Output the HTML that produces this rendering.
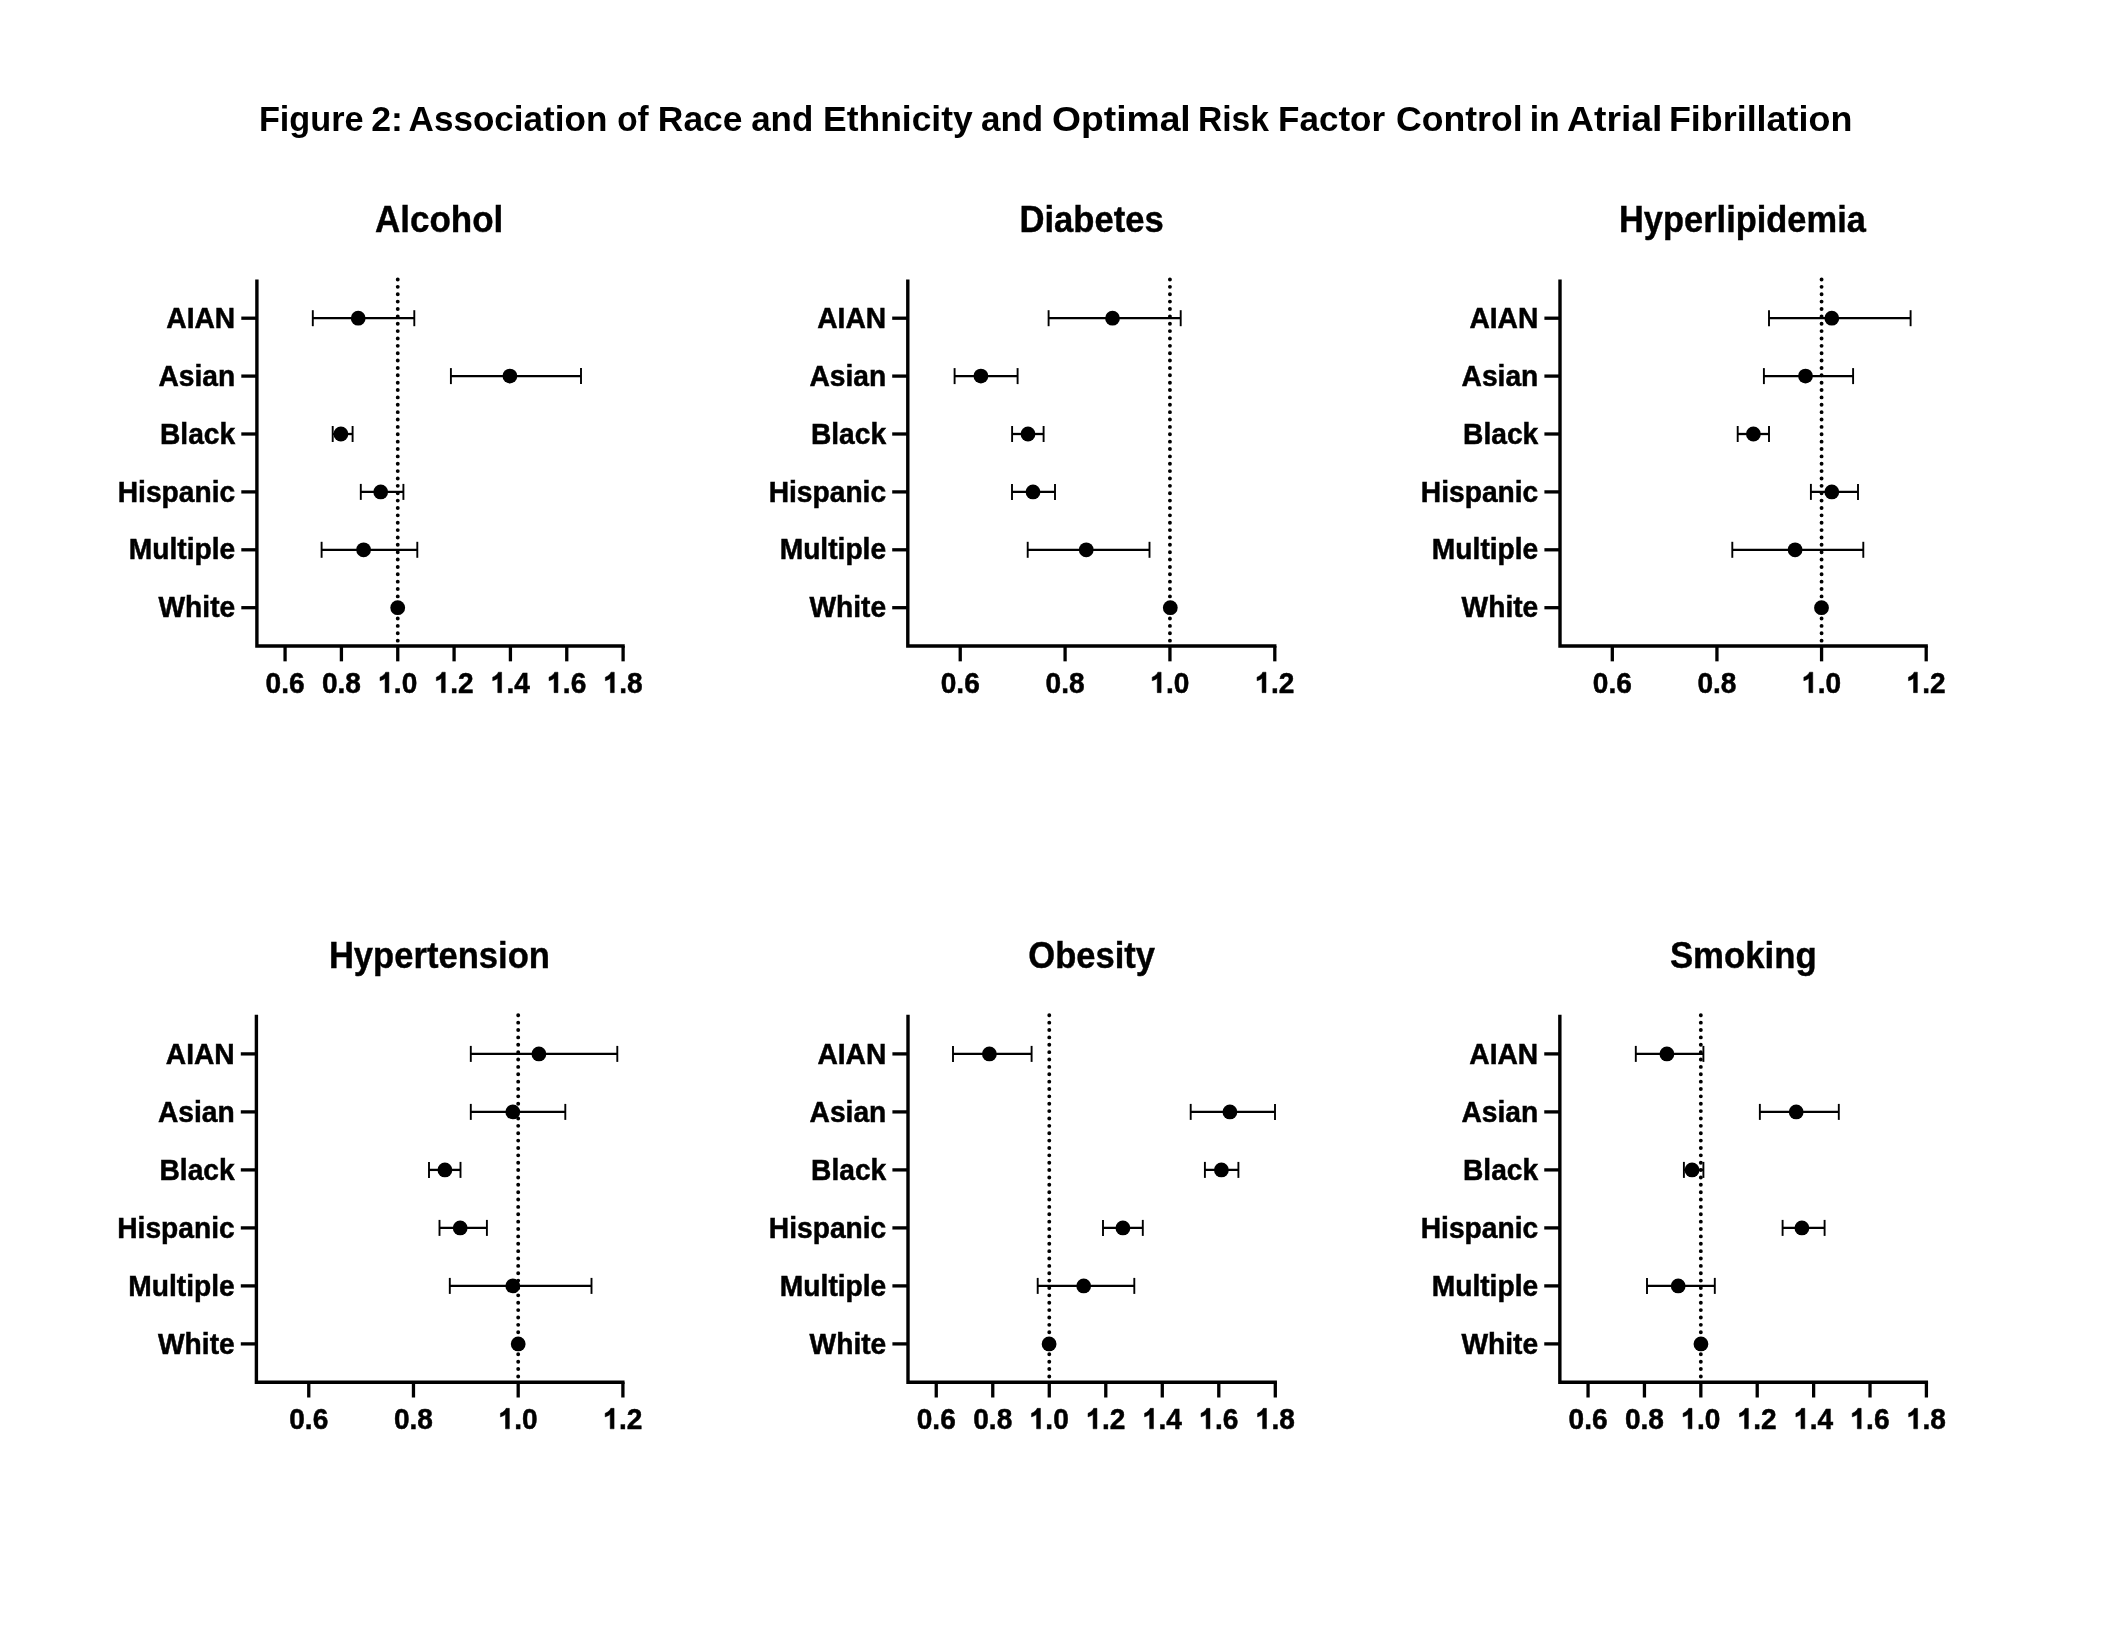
<!DOCTYPE html>
<html><head><meta charset="utf-8"><title>Figure 2</title>
<style>html,body{margin:0;padding:0;background:#fff;overflow:hidden}svg{display:block;filter:grayscale(100%)}text{font-family:"Liberation Sans", sans-serif;font-weight:bold;fill:#000}.lb{stroke:#000;stroke-width:0.5}.pt{stroke:#000;stroke-width:0.4}</style>
</head><body>
<svg width="2112" height="1632" viewBox="0 0 2112 1632">
<rect x="0" y="0" width="2112" height="1632" fill="#fff"/>
<text x="258.91" y="130.8" font-size="34.5" textLength="104.7" lengthAdjust="spacingAndGlyphs">Figure</text>
<text x="371.17" y="130.8" font-size="34.5" textLength="31.71" lengthAdjust="spacingAndGlyphs">2:</text>
<text x="408.58" y="130.8" font-size="34.5" textLength="198.79" lengthAdjust="spacingAndGlyphs">Association</text>
<text x="617.13" y="130.8" font-size="34.5" textLength="31.46" lengthAdjust="spacingAndGlyphs">of</text>
<text x="657.85" y="130.8" font-size="34.5" textLength="84.57" lengthAdjust="spacingAndGlyphs">Race</text>
<text x="751.19" y="130.8" font-size="34.5" textLength="62.08" lengthAdjust="spacingAndGlyphs">and</text>
<text x="823.05" y="130.8" font-size="34.5" textLength="149.66" lengthAdjust="spacingAndGlyphs">Ethnicity</text>
<text x="980.99" y="130.8" font-size="34.5" textLength="62.19" lengthAdjust="spacingAndGlyphs">and</text>
<text x="1052.02" y="130.8" font-size="34.5" textLength="138.71" lengthAdjust="spacingAndGlyphs">Optimal</text>
<text x="1197.95" y="130.8" font-size="34.5" textLength="71.13" lengthAdjust="spacingAndGlyphs">Risk</text>
<text x="1278.07" y="130.8" font-size="34.5" textLength="107.08" lengthAdjust="spacingAndGlyphs">Factor</text>
<text x="1395.97" y="130.8" font-size="34.5" textLength="126.56" lengthAdjust="spacingAndGlyphs">Control</text>
<text x="1529.64" y="130.8" font-size="34.5" textLength="30.1" lengthAdjust="spacingAndGlyphs">in</text>
<text x="1567.02" y="130.8" font-size="34.5" textLength="95.45" lengthAdjust="spacingAndGlyphs">Atrial</text>
<text x="1668.92" y="130.8" font-size="34.5" textLength="183.4" lengthAdjust="spacingAndGlyphs">Fibrillation</text>
<g><text x="374.93" y="232.2" font-size="36.2" textLength="128.4" lengthAdjust="spacingAndGlyphs" class="pt">Alcohol</text>
<line x1="397.75" y1="279.5" x2="397.75" y2="646.05" stroke="#000" stroke-width="3.9" stroke-linecap="round" stroke-dasharray="0 7.37"/>
<path d="M256.9 279.5 V646.05 H624.75" fill="none" stroke="#000" stroke-width="3.4" stroke-linecap="butt" stroke-linejoin="miter"/>
<line x1="241.3" y1="318.2" x2="256.9" y2="318.2" stroke="#000" stroke-width="3.3"/>
<text transform="translate(235.2 327.8) scale(0.965 1)" class="lb" font-size="29.2" text-anchor="end">AIAN</text>
<line x1="241.3" y1="376.1" x2="256.9" y2="376.1" stroke="#000" stroke-width="3.3"/>
<text transform="translate(235.2 385.7) scale(0.965 1)" class="lb" font-size="29.2" text-anchor="end">Asian</text>
<line x1="241.3" y1="434" x2="256.9" y2="434" stroke="#000" stroke-width="3.3"/>
<text transform="translate(235.2 443.6) scale(0.965 1)" class="lb" font-size="29.2" text-anchor="end">Black</text>
<line x1="241.3" y1="491.9" x2="256.9" y2="491.9" stroke="#000" stroke-width="3.3"/>
<text transform="translate(235.2 501.5) scale(0.965 1)" class="lb" font-size="29.2" text-anchor="end">Hispanic</text>
<line x1="241.3" y1="549.8" x2="256.9" y2="549.8" stroke="#000" stroke-width="3.3"/>
<text transform="translate(235.2 559.4) scale(0.965 1)" class="lb" font-size="29.2" text-anchor="end">Multiple</text>
<line x1="241.3" y1="607.7" x2="256.9" y2="607.7" stroke="#000" stroke-width="3.3"/>
<text transform="translate(235.2 617.3) scale(0.965 1)" class="lb" font-size="29.2" text-anchor="end">White</text>
<line x1="285.07" y1="646.05" x2="285.07" y2="661.35" stroke="#000" stroke-width="3.3"/>
<text transform="translate(285.07 692.65) scale(0.955 1)" class="lb" font-size="29.4" text-anchor="middle">0.6</text>
<line x1="341.41" y1="646.05" x2="341.41" y2="661.35" stroke="#000" stroke-width="3.3"/>
<text transform="translate(341.41 692.65) scale(0.955 1)" class="lb" font-size="29.4" text-anchor="middle">0.8</text>
<line x1="397.75" y1="646.05" x2="397.75" y2="661.35" stroke="#000" stroke-width="3.3"/>
<path transform="translate(378.23 692.65) scale(0.013709 -0.014355)" d="M780 0L499 0L499 1010C420 940 300 880 130 830L130 1080C230 1110 330 1170 420 1250C480 1300 515 1360 540 1425L780 1425Z" fill="#000" stroke="#000" stroke-width="0.5" vector-effect="non-scaling-stroke"/>
<text transform="translate(393.85 692.65) scale(0.955 1)" class="lb" font-size="29.4">.0</text>
<line x1="454.08" y1="646.05" x2="454.08" y2="661.35" stroke="#000" stroke-width="3.3"/>
<path transform="translate(434.57 692.65) scale(0.013709 -0.014355)" d="M780 0L499 0L499 1010C420 940 300 880 130 830L130 1080C230 1110 330 1170 420 1250C480 1300 515 1360 540 1425L780 1425Z" fill="#000" stroke="#000" stroke-width="0.5" vector-effect="non-scaling-stroke"/>
<text transform="translate(450.18 692.65) scale(0.955 1)" class="lb" font-size="29.4">.2</text>
<line x1="510.42" y1="646.05" x2="510.42" y2="661.35" stroke="#000" stroke-width="3.3"/>
<path transform="translate(490.91 692.65) scale(0.013709 -0.014355)" d="M780 0L499 0L499 1010C420 940 300 880 130 830L130 1080C230 1110 330 1170 420 1250C480 1300 515 1360 540 1425L780 1425Z" fill="#000" stroke="#000" stroke-width="0.5" vector-effect="non-scaling-stroke"/>
<text transform="translate(506.52 692.65) scale(0.955 1)" class="lb" font-size="29.4">.4</text>
<line x1="566.76" y1="646.05" x2="566.76" y2="661.35" stroke="#000" stroke-width="3.3"/>
<path transform="translate(547.25 692.65) scale(0.013709 -0.014355)" d="M780 0L499 0L499 1010C420 940 300 880 130 830L130 1080C230 1110 330 1170 420 1250C480 1300 515 1360 540 1425L780 1425Z" fill="#000" stroke="#000" stroke-width="0.5" vector-effect="non-scaling-stroke"/>
<text transform="translate(562.86 692.65) scale(0.955 1)" class="lb" font-size="29.4">.6</text>
<line x1="623.1" y1="646.05" x2="623.1" y2="661.35" stroke="#000" stroke-width="3.3"/>
<path transform="translate(603.58 692.65) scale(0.013709 -0.014355)" d="M780 0L499 0L499 1010C420 940 300 880 130 830L130 1080C230 1110 330 1170 420 1250C480 1300 515 1360 540 1425L780 1425Z" fill="#000" stroke="#000" stroke-width="0.5" vector-effect="non-scaling-stroke"/>
<text transform="translate(619.2 692.65) scale(0.955 1)" class="lb" font-size="29.4">.8</text>
<line x1="312.8" y1="318.2" x2="414.3" y2="318.2" stroke="#000" stroke-width="2.3"/>
<line x1="312.8" y1="310.2" x2="312.8" y2="326.2" stroke="#000" stroke-width="1.9"/>
<line x1="414.3" y1="310.2" x2="414.3" y2="326.2" stroke="#000" stroke-width="1.9"/>
<circle cx="358.2" cy="318.2" r="7.4" fill="#000"/>
<line x1="450.9" y1="376.1" x2="581" y2="376.1" stroke="#000" stroke-width="2.3"/>
<line x1="450.9" y1="368.1" x2="450.9" y2="384.1" stroke="#000" stroke-width="1.9"/>
<line x1="581" y1="368.1" x2="581" y2="384.1" stroke="#000" stroke-width="1.9"/>
<circle cx="509.9" cy="376.1" r="7.4" fill="#000"/>
<line x1="332.7" y1="434" x2="352.6" y2="434" stroke="#000" stroke-width="2.3"/>
<line x1="332.7" y1="426" x2="332.7" y2="442" stroke="#000" stroke-width="1.9"/>
<line x1="352.6" y1="426" x2="352.6" y2="442" stroke="#000" stroke-width="1.9"/>
<circle cx="340.9" cy="434" r="7.4" fill="#000"/>
<line x1="360.8" y1="491.9" x2="403.4" y2="491.9" stroke="#000" stroke-width="2.3"/>
<line x1="360.8" y1="483.9" x2="360.8" y2="499.9" stroke="#000" stroke-width="1.9"/>
<line x1="403.4" y1="483.9" x2="403.4" y2="499.9" stroke="#000" stroke-width="1.9"/>
<circle cx="380.7" cy="491.9" r="7.4" fill="#000"/>
<line x1="321.6" y1="549.8" x2="417.3" y2="549.8" stroke="#000" stroke-width="2.3"/>
<line x1="321.6" y1="541.8" x2="321.6" y2="557.8" stroke="#000" stroke-width="1.9"/>
<line x1="417.3" y1="541.8" x2="417.3" y2="557.8" stroke="#000" stroke-width="1.9"/>
<circle cx="363.6" cy="549.8" r="7.4" fill="#000"/>
<circle cx="397.7" cy="607.7" r="7.4" fill="#000"/></g>
<g><text x="1019.39" y="232.2" font-size="36.2" textLength="144.44" lengthAdjust="spacingAndGlyphs" class="pt">Diabetes</text>
<line x1="1169.94" y1="279.5" x2="1169.94" y2="646.05" stroke="#000" stroke-width="3.9" stroke-linecap="round" stroke-dasharray="0 7.37"/>
<path d="M907.8 279.5 V646.05 H1276.45" fill="none" stroke="#000" stroke-width="3.4" stroke-linecap="butt" stroke-linejoin="miter"/>
<line x1="892.2" y1="318.2" x2="907.8" y2="318.2" stroke="#000" stroke-width="3.3"/>
<text transform="translate(886.1 327.8) scale(0.965 1)" class="lb" font-size="29.2" text-anchor="end">AIAN</text>
<line x1="892.2" y1="376.1" x2="907.8" y2="376.1" stroke="#000" stroke-width="3.3"/>
<text transform="translate(886.1 385.7) scale(0.965 1)" class="lb" font-size="29.2" text-anchor="end">Asian</text>
<line x1="892.2" y1="434" x2="907.8" y2="434" stroke="#000" stroke-width="3.3"/>
<text transform="translate(886.1 443.6) scale(0.965 1)" class="lb" font-size="29.2" text-anchor="end">Black</text>
<line x1="892.2" y1="491.9" x2="907.8" y2="491.9" stroke="#000" stroke-width="3.3"/>
<text transform="translate(886.1 501.5) scale(0.965 1)" class="lb" font-size="29.2" text-anchor="end">Hispanic</text>
<line x1="892.2" y1="549.8" x2="907.8" y2="549.8" stroke="#000" stroke-width="3.3"/>
<text transform="translate(886.1 559.4) scale(0.965 1)" class="lb" font-size="29.2" text-anchor="end">Multiple</text>
<line x1="892.2" y1="607.7" x2="907.8" y2="607.7" stroke="#000" stroke-width="3.3"/>
<text transform="translate(886.1 617.3) scale(0.965 1)" class="lb" font-size="29.2" text-anchor="end">White</text>
<line x1="960.23" y1="646.05" x2="960.23" y2="661.35" stroke="#000" stroke-width="3.3"/>
<text transform="translate(960.23 692.65) scale(0.955 1)" class="lb" font-size="29.4" text-anchor="middle">0.6</text>
<line x1="1065.09" y1="646.05" x2="1065.09" y2="661.35" stroke="#000" stroke-width="3.3"/>
<text transform="translate(1065.09 692.65) scale(0.955 1)" class="lb" font-size="29.4" text-anchor="middle">0.8</text>
<line x1="1169.94" y1="646.05" x2="1169.94" y2="661.35" stroke="#000" stroke-width="3.3"/>
<path transform="translate(1150.43 692.65) scale(0.013709 -0.014355)" d="M780 0L499 0L499 1010C420 940 300 880 130 830L130 1080C230 1110 330 1170 420 1250C480 1300 515 1360 540 1425L780 1425Z" fill="#000" stroke="#000" stroke-width="0.5" vector-effect="non-scaling-stroke"/>
<text transform="translate(1166.04 692.65) scale(0.955 1)" class="lb" font-size="29.4">.0</text>
<line x1="1274.8" y1="646.05" x2="1274.8" y2="661.35" stroke="#000" stroke-width="3.3"/>
<path transform="translate(1255.28 692.65) scale(0.013709 -0.014355)" d="M780 0L499 0L499 1010C420 940 300 880 130 830L130 1080C230 1110 330 1170 420 1250C480 1300 515 1360 540 1425L780 1425Z" fill="#000" stroke="#000" stroke-width="0.5" vector-effect="non-scaling-stroke"/>
<text transform="translate(1270.9 692.65) scale(0.955 1)" class="lb" font-size="29.4">.2</text>
<line x1="1048.6" y1="318.2" x2="1180.7" y2="318.2" stroke="#000" stroke-width="2.3"/>
<line x1="1048.6" y1="310.2" x2="1048.6" y2="326.2" stroke="#000" stroke-width="1.9"/>
<line x1="1180.7" y1="310.2" x2="1180.7" y2="326.2" stroke="#000" stroke-width="1.9"/>
<circle cx="1112.5" cy="318.2" r="7.4" fill="#000"/>
<line x1="954.6" y1="376.1" x2="1017.6" y2="376.1" stroke="#000" stroke-width="2.3"/>
<line x1="954.6" y1="368.1" x2="954.6" y2="384.1" stroke="#000" stroke-width="1.9"/>
<line x1="1017.6" y1="368.1" x2="1017.6" y2="384.1" stroke="#000" stroke-width="1.9"/>
<circle cx="980.9" cy="376.1" r="7.4" fill="#000"/>
<line x1="1012.1" y1="434" x2="1043.6" y2="434" stroke="#000" stroke-width="2.3"/>
<line x1="1012.1" y1="426" x2="1012.1" y2="442" stroke="#000" stroke-width="1.9"/>
<line x1="1043.6" y1="426" x2="1043.6" y2="442" stroke="#000" stroke-width="1.9"/>
<circle cx="1028" cy="434" r="7.4" fill="#000"/>
<line x1="1012" y1="491.9" x2="1055" y2="491.9" stroke="#000" stroke-width="2.3"/>
<line x1="1012" y1="483.9" x2="1012" y2="499.9" stroke="#000" stroke-width="1.9"/>
<line x1="1055" y1="483.9" x2="1055" y2="499.9" stroke="#000" stroke-width="1.9"/>
<circle cx="1033" cy="491.9" r="7.4" fill="#000"/>
<line x1="1027.7" y1="549.8" x2="1149.5" y2="549.8" stroke="#000" stroke-width="2.3"/>
<line x1="1027.7" y1="541.8" x2="1027.7" y2="557.8" stroke="#000" stroke-width="1.9"/>
<line x1="1149.5" y1="541.8" x2="1149.5" y2="557.8" stroke="#000" stroke-width="1.9"/>
<circle cx="1086.25" cy="549.8" r="7.4" fill="#000"/>
<circle cx="1170.3" cy="607.7" r="7.4" fill="#000"/></g>
<g><text x="1619.0" y="232.2" font-size="36.2" textLength="246.87" lengthAdjust="spacingAndGlyphs" class="pt">Hyperlipidemia</text>
<line x1="1821.57" y1="279.5" x2="1821.57" y2="646.05" stroke="#000" stroke-width="3.9" stroke-linecap="round" stroke-dasharray="0 7.37"/>
<path d="M1560 279.5 V646.05 H1927.85" fill="none" stroke="#000" stroke-width="3.4" stroke-linecap="butt" stroke-linejoin="miter"/>
<line x1="1544.4" y1="318.2" x2="1560" y2="318.2" stroke="#000" stroke-width="3.3"/>
<text transform="translate(1538.3 327.8) scale(0.965 1)" class="lb" font-size="29.2" text-anchor="end">AIAN</text>
<line x1="1544.4" y1="376.1" x2="1560" y2="376.1" stroke="#000" stroke-width="3.3"/>
<text transform="translate(1538.3 385.7) scale(0.965 1)" class="lb" font-size="29.2" text-anchor="end">Asian</text>
<line x1="1544.4" y1="434" x2="1560" y2="434" stroke="#000" stroke-width="3.3"/>
<text transform="translate(1538.3 443.6) scale(0.965 1)" class="lb" font-size="29.2" text-anchor="end">Black</text>
<line x1="1544.4" y1="491.9" x2="1560" y2="491.9" stroke="#000" stroke-width="3.3"/>
<text transform="translate(1538.3 501.5) scale(0.965 1)" class="lb" font-size="29.2" text-anchor="end">Hispanic</text>
<line x1="1544.4" y1="549.8" x2="1560" y2="549.8" stroke="#000" stroke-width="3.3"/>
<text transform="translate(1538.3 559.4) scale(0.965 1)" class="lb" font-size="29.2" text-anchor="end">Multiple</text>
<line x1="1544.4" y1="607.7" x2="1560" y2="607.7" stroke="#000" stroke-width="3.3"/>
<text transform="translate(1538.3 617.3) scale(0.965 1)" class="lb" font-size="29.2" text-anchor="end">White</text>
<line x1="1612.31" y1="646.05" x2="1612.31" y2="661.35" stroke="#000" stroke-width="3.3"/>
<text transform="translate(1612.31 692.65) scale(0.955 1)" class="lb" font-size="29.4" text-anchor="middle">0.6</text>
<line x1="1716.94" y1="646.05" x2="1716.94" y2="661.35" stroke="#000" stroke-width="3.3"/>
<text transform="translate(1716.94 692.65) scale(0.955 1)" class="lb" font-size="29.4" text-anchor="middle">0.8</text>
<line x1="1821.57" y1="646.05" x2="1821.57" y2="661.35" stroke="#000" stroke-width="3.3"/>
<path transform="translate(1802.06 692.65) scale(0.013709 -0.014355)" d="M780 0L499 0L499 1010C420 940 300 880 130 830L130 1080C230 1110 330 1170 420 1250C480 1300 515 1360 540 1425L780 1425Z" fill="#000" stroke="#000" stroke-width="0.5" vector-effect="non-scaling-stroke"/>
<text transform="translate(1817.67 692.65) scale(0.955 1)" class="lb" font-size="29.4">.0</text>
<line x1="1926.2" y1="646.05" x2="1926.2" y2="661.35" stroke="#000" stroke-width="3.3"/>
<path transform="translate(1906.68 692.65) scale(0.013709 -0.014355)" d="M780 0L499 0L499 1010C420 940 300 880 130 830L130 1080C230 1110 330 1170 420 1250C480 1300 515 1360 540 1425L780 1425Z" fill="#000" stroke="#000" stroke-width="0.5" vector-effect="non-scaling-stroke"/>
<text transform="translate(1922.3 692.65) scale(0.955 1)" class="lb" font-size="29.4">.2</text>
<line x1="1769" y1="318.2" x2="1910.6" y2="318.2" stroke="#000" stroke-width="2.3"/>
<line x1="1769" y1="310.2" x2="1769" y2="326.2" stroke="#000" stroke-width="1.9"/>
<line x1="1910.6" y1="310.2" x2="1910.6" y2="326.2" stroke="#000" stroke-width="1.9"/>
<circle cx="1831.8" cy="318.2" r="7.4" fill="#000"/>
<line x1="1763.9" y1="376.1" x2="1853.1" y2="376.1" stroke="#000" stroke-width="2.3"/>
<line x1="1763.9" y1="368.1" x2="1763.9" y2="384.1" stroke="#000" stroke-width="1.9"/>
<line x1="1853.1" y1="368.1" x2="1853.1" y2="384.1" stroke="#000" stroke-width="1.9"/>
<circle cx="1805.5" cy="376.1" r="7.4" fill="#000"/>
<line x1="1737.7" y1="434" x2="1769" y2="434" stroke="#000" stroke-width="2.3"/>
<line x1="1737.7" y1="426" x2="1737.7" y2="442" stroke="#000" stroke-width="1.9"/>
<line x1="1769" y1="426" x2="1769" y2="442" stroke="#000" stroke-width="1.9"/>
<circle cx="1753.4" cy="434" r="7.4" fill="#000"/>
<line x1="1810.9" y1="491.9" x2="1858" y2="491.9" stroke="#000" stroke-width="2.3"/>
<line x1="1810.9" y1="483.9" x2="1810.9" y2="499.9" stroke="#000" stroke-width="1.9"/>
<line x1="1858" y1="483.9" x2="1858" y2="499.9" stroke="#000" stroke-width="1.9"/>
<circle cx="1831.8" cy="491.9" r="7.4" fill="#000"/>
<line x1="1732.3" y1="549.8" x2="1863.3" y2="549.8" stroke="#000" stroke-width="2.3"/>
<line x1="1732.3" y1="541.8" x2="1732.3" y2="557.8" stroke="#000" stroke-width="1.9"/>
<line x1="1863.3" y1="541.8" x2="1863.3" y2="557.8" stroke="#000" stroke-width="1.9"/>
<circle cx="1795.1" cy="549.8" r="7.4" fill="#000"/>
<circle cx="1821.5" cy="607.7" r="7.4" fill="#000"/></g>
<g><text x="328.89" y="967.5" font-size="36.2" textLength="221.06" lengthAdjust="spacingAndGlyphs" class="pt">Hypertension</text>
<line x1="518.19" y1="1015.3" x2="518.19" y2="1382.2" stroke="#000" stroke-width="3.9" stroke-linecap="round" stroke-dasharray="0 7.37"/>
<path d="M256.4 1014.7 V1382.2 H624.55" fill="none" stroke="#000" stroke-width="3.4" stroke-linecap="butt" stroke-linejoin="miter"/>
<line x1="240.8" y1="1053.9" x2="256.4" y2="1053.9" stroke="#000" stroke-width="3.3"/>
<text transform="translate(234.7 1063.5) scale(0.965 1)" class="lb" font-size="29.2" text-anchor="end">AIAN</text>
<line x1="240.8" y1="1111.9" x2="256.4" y2="1111.9" stroke="#000" stroke-width="3.3"/>
<text transform="translate(234.7 1121.5) scale(0.965 1)" class="lb" font-size="29.2" text-anchor="end">Asian</text>
<line x1="240.8" y1="1169.9" x2="256.4" y2="1169.9" stroke="#000" stroke-width="3.3"/>
<text transform="translate(234.7 1179.5) scale(0.965 1)" class="lb" font-size="29.2" text-anchor="end">Black</text>
<line x1="240.8" y1="1227.9" x2="256.4" y2="1227.9" stroke="#000" stroke-width="3.3"/>
<text transform="translate(234.7 1237.5) scale(0.965 1)" class="lb" font-size="29.2" text-anchor="end">Hispanic</text>
<line x1="240.8" y1="1285.9" x2="256.4" y2="1285.9" stroke="#000" stroke-width="3.3"/>
<text transform="translate(234.7 1295.5) scale(0.965 1)" class="lb" font-size="29.2" text-anchor="end">Multiple</text>
<line x1="240.8" y1="1343.9" x2="256.4" y2="1343.9" stroke="#000" stroke-width="3.3"/>
<text transform="translate(234.7 1353.5) scale(0.965 1)" class="lb" font-size="29.2" text-anchor="end">White</text>
<line x1="308.76" y1="1382.2" x2="308.76" y2="1397.5" stroke="#000" stroke-width="3.3"/>
<text transform="translate(308.76 1428.8) scale(0.955 1)" class="lb" font-size="29.4" text-anchor="middle">0.6</text>
<line x1="413.47" y1="1382.2" x2="413.47" y2="1397.5" stroke="#000" stroke-width="3.3"/>
<text transform="translate(413.47 1428.8) scale(0.955 1)" class="lb" font-size="29.4" text-anchor="middle">0.8</text>
<line x1="518.19" y1="1382.2" x2="518.19" y2="1397.5" stroke="#000" stroke-width="3.3"/>
<path transform="translate(498.67 1428.8) scale(0.013709 -0.014355)" d="M780 0L499 0L499 1010C420 940 300 880 130 830L130 1080C230 1110 330 1170 420 1250C480 1300 515 1360 540 1425L780 1425Z" fill="#000" stroke="#000" stroke-width="0.5" vector-effect="non-scaling-stroke"/>
<text transform="translate(514.29 1428.8) scale(0.955 1)" class="lb" font-size="29.4">.0</text>
<line x1="622.9" y1="1382.2" x2="622.9" y2="1397.5" stroke="#000" stroke-width="3.3"/>
<path transform="translate(603.38 1428.8) scale(0.013709 -0.014355)" d="M780 0L499 0L499 1010C420 940 300 880 130 830L130 1080C230 1110 330 1170 420 1250C480 1300 515 1360 540 1425L780 1425Z" fill="#000" stroke="#000" stroke-width="0.5" vector-effect="non-scaling-stroke"/>
<text transform="translate(619 1428.8) scale(0.955 1)" class="lb" font-size="29.4">.2</text>
<line x1="470.8" y1="1053.9" x2="617.3" y2="1053.9" stroke="#000" stroke-width="2.3"/>
<line x1="470.8" y1="1045.9" x2="470.8" y2="1061.9" stroke="#000" stroke-width="1.9"/>
<line x1="617.3" y1="1045.9" x2="617.3" y2="1061.9" stroke="#000" stroke-width="1.9"/>
<circle cx="538.9" cy="1053.9" r="7.4" fill="#000"/>
<line x1="470.8" y1="1111.9" x2="565.3" y2="1111.9" stroke="#000" stroke-width="2.3"/>
<line x1="470.8" y1="1103.9" x2="470.8" y2="1119.9" stroke="#000" stroke-width="1.9"/>
<line x1="565.3" y1="1103.9" x2="565.3" y2="1119.9" stroke="#000" stroke-width="1.9"/>
<circle cx="512.8" cy="1111.9" r="7.4" fill="#000"/>
<line x1="429" y1="1169.9" x2="460.5" y2="1169.9" stroke="#000" stroke-width="2.3"/>
<line x1="429" y1="1161.9" x2="429" y2="1177.9" stroke="#000" stroke-width="1.9"/>
<line x1="460.5" y1="1161.9" x2="460.5" y2="1177.9" stroke="#000" stroke-width="1.9"/>
<circle cx="444.9" cy="1169.9" r="7.4" fill="#000"/>
<line x1="439.5" y1="1227.9" x2="486.9" y2="1227.9" stroke="#000" stroke-width="2.3"/>
<line x1="439.5" y1="1219.9" x2="439.5" y2="1235.9" stroke="#000" stroke-width="1.9"/>
<line x1="486.9" y1="1219.9" x2="486.9" y2="1235.9" stroke="#000" stroke-width="1.9"/>
<circle cx="460.2" cy="1227.9" r="7.4" fill="#000"/>
<line x1="449.8" y1="1285.9" x2="591.5" y2="1285.9" stroke="#000" stroke-width="2.3"/>
<line x1="449.8" y1="1277.9" x2="449.8" y2="1293.9" stroke="#000" stroke-width="1.9"/>
<line x1="591.5" y1="1277.9" x2="591.5" y2="1293.9" stroke="#000" stroke-width="1.9"/>
<circle cx="512.8" cy="1285.9" r="7.4" fill="#000"/>
<circle cx="518.2" cy="1343.9" r="7.4" fill="#000"/></g>
<g><text x="1028.24" y="967.5" font-size="36.2" textLength="126.82" lengthAdjust="spacingAndGlyphs" class="pt">Obesity</text>
<line x1="1049.27" y1="1015.3" x2="1049.27" y2="1382.2" stroke="#000" stroke-width="3.9" stroke-linecap="round" stroke-dasharray="0 7.37"/>
<path d="M908 1014.7 V1382.2 H1276.95" fill="none" stroke="#000" stroke-width="3.4" stroke-linecap="butt" stroke-linejoin="miter"/>
<line x1="892.4" y1="1053.9" x2="908" y2="1053.9" stroke="#000" stroke-width="3.3"/>
<text transform="translate(886.3 1063.5) scale(0.965 1)" class="lb" font-size="29.2" text-anchor="end">AIAN</text>
<line x1="892.4" y1="1111.9" x2="908" y2="1111.9" stroke="#000" stroke-width="3.3"/>
<text transform="translate(886.3 1121.5) scale(0.965 1)" class="lb" font-size="29.2" text-anchor="end">Asian</text>
<line x1="892.4" y1="1169.9" x2="908" y2="1169.9" stroke="#000" stroke-width="3.3"/>
<text transform="translate(886.3 1179.5) scale(0.965 1)" class="lb" font-size="29.2" text-anchor="end">Black</text>
<line x1="892.4" y1="1227.9" x2="908" y2="1227.9" stroke="#000" stroke-width="3.3"/>
<text transform="translate(886.3 1237.5) scale(0.965 1)" class="lb" font-size="29.2" text-anchor="end">Hispanic</text>
<line x1="892.4" y1="1285.9" x2="908" y2="1285.9" stroke="#000" stroke-width="3.3"/>
<text transform="translate(886.3 1295.5) scale(0.965 1)" class="lb" font-size="29.2" text-anchor="end">Multiple</text>
<line x1="892.4" y1="1343.9" x2="908" y2="1343.9" stroke="#000" stroke-width="3.3"/>
<text transform="translate(886.3 1353.5) scale(0.965 1)" class="lb" font-size="29.2" text-anchor="end">White</text>
<line x1="936.25" y1="1382.2" x2="936.25" y2="1397.5" stroke="#000" stroke-width="3.3"/>
<text transform="translate(936.25 1428.8) scale(0.955 1)" class="lb" font-size="29.4" text-anchor="middle">0.6</text>
<line x1="992.76" y1="1382.2" x2="992.76" y2="1397.5" stroke="#000" stroke-width="3.3"/>
<text transform="translate(992.76 1428.8) scale(0.955 1)" class="lb" font-size="29.4" text-anchor="middle">0.8</text>
<line x1="1049.27" y1="1382.2" x2="1049.27" y2="1397.5" stroke="#000" stroke-width="3.3"/>
<path transform="translate(1029.75 1428.8) scale(0.013709 -0.014355)" d="M780 0L499 0L499 1010C420 940 300 880 130 830L130 1080C230 1110 330 1170 420 1250C480 1300 515 1360 540 1425L780 1425Z" fill="#000" stroke="#000" stroke-width="0.5" vector-effect="non-scaling-stroke"/>
<text transform="translate(1045.37 1428.8) scale(0.955 1)" class="lb" font-size="29.4">.0</text>
<line x1="1105.78" y1="1382.2" x2="1105.78" y2="1397.5" stroke="#000" stroke-width="3.3"/>
<path transform="translate(1086.26 1428.8) scale(0.013709 -0.014355)" d="M780 0L499 0L499 1010C420 940 300 880 130 830L130 1080C230 1110 330 1170 420 1250C480 1300 515 1360 540 1425L780 1425Z" fill="#000" stroke="#000" stroke-width="0.5" vector-effect="non-scaling-stroke"/>
<text transform="translate(1101.88 1428.8) scale(0.955 1)" class="lb" font-size="29.4">.2</text>
<line x1="1162.28" y1="1382.2" x2="1162.28" y2="1397.5" stroke="#000" stroke-width="3.3"/>
<path transform="translate(1142.77 1428.8) scale(0.013709 -0.014355)" d="M780 0L499 0L499 1010C420 940 300 880 130 830L130 1080C230 1110 330 1170 420 1250C480 1300 515 1360 540 1425L780 1425Z" fill="#000" stroke="#000" stroke-width="0.5" vector-effect="non-scaling-stroke"/>
<text transform="translate(1158.38 1428.8) scale(0.955 1)" class="lb" font-size="29.4">.4</text>
<line x1="1218.79" y1="1382.2" x2="1218.79" y2="1397.5" stroke="#000" stroke-width="3.3"/>
<path transform="translate(1199.28 1428.8) scale(0.013709 -0.014355)" d="M780 0L499 0L499 1010C420 940 300 880 130 830L130 1080C230 1110 330 1170 420 1250C480 1300 515 1360 540 1425L780 1425Z" fill="#000" stroke="#000" stroke-width="0.5" vector-effect="non-scaling-stroke"/>
<text transform="translate(1214.89 1428.8) scale(0.955 1)" class="lb" font-size="29.4">.6</text>
<line x1="1275.3" y1="1382.2" x2="1275.3" y2="1397.5" stroke="#000" stroke-width="3.3"/>
<path transform="translate(1255.78 1428.8) scale(0.013709 -0.014355)" d="M780 0L499 0L499 1010C420 940 300 880 130 830L130 1080C230 1110 330 1170 420 1250C480 1300 515 1360 540 1425L780 1425Z" fill="#000" stroke="#000" stroke-width="0.5" vector-effect="non-scaling-stroke"/>
<text transform="translate(1271.4 1428.8) scale(0.955 1)" class="lb" font-size="29.4">.8</text>
<line x1="953" y1="1053.9" x2="1031.6" y2="1053.9" stroke="#000" stroke-width="2.3"/>
<line x1="953" y1="1045.9" x2="953" y2="1061.9" stroke="#000" stroke-width="1.9"/>
<line x1="1031.6" y1="1045.9" x2="1031.6" y2="1061.9" stroke="#000" stroke-width="1.9"/>
<circle cx="989.4" cy="1053.9" r="7.4" fill="#000"/>
<line x1="1190.7" y1="1111.9" x2="1275" y2="1111.9" stroke="#000" stroke-width="2.3"/>
<line x1="1190.7" y1="1103.9" x2="1190.7" y2="1119.9" stroke="#000" stroke-width="1.9"/>
<line x1="1275" y1="1103.9" x2="1275" y2="1119.9" stroke="#000" stroke-width="1.9"/>
<circle cx="1229.9" cy="1111.9" r="7.4" fill="#000"/>
<line x1="1204.9" y1="1169.9" x2="1238.4" y2="1169.9" stroke="#000" stroke-width="2.3"/>
<line x1="1204.9" y1="1161.9" x2="1204.9" y2="1177.9" stroke="#000" stroke-width="1.9"/>
<line x1="1238.4" y1="1161.9" x2="1238.4" y2="1177.9" stroke="#000" stroke-width="1.9"/>
<circle cx="1221.4" cy="1169.9" r="7.4" fill="#000"/>
<line x1="1103" y1="1227.9" x2="1142.8" y2="1227.9" stroke="#000" stroke-width="2.3"/>
<line x1="1103" y1="1219.9" x2="1103" y2="1235.9" stroke="#000" stroke-width="1.9"/>
<line x1="1142.8" y1="1219.9" x2="1142.8" y2="1235.9" stroke="#000" stroke-width="1.9"/>
<circle cx="1122.9" cy="1227.9" r="7.4" fill="#000"/>
<line x1="1037.7" y1="1285.9" x2="1134.3" y2="1285.9" stroke="#000" stroke-width="2.3"/>
<line x1="1037.7" y1="1277.9" x2="1037.7" y2="1293.9" stroke="#000" stroke-width="1.9"/>
<line x1="1134.3" y1="1277.9" x2="1134.3" y2="1293.9" stroke="#000" stroke-width="1.9"/>
<circle cx="1083.7" cy="1285.9" r="7.4" fill="#000"/>
<circle cx="1049.1" cy="1343.9" r="7.4" fill="#000"/></g>
<g><text x="1669.94" y="967.5" font-size="36.2" textLength="146.8" lengthAdjust="spacingAndGlyphs" class="pt">Smoking</text>
<line x1="1700.83" y1="1015.3" x2="1700.83" y2="1382.2" stroke="#000" stroke-width="3.9" stroke-linecap="round" stroke-dasharray="0 7.37"/>
<path d="M1559.85 1014.7 V1382.2 H1928.05" fill="none" stroke="#000" stroke-width="3.4" stroke-linecap="butt" stroke-linejoin="miter"/>
<line x1="1544.25" y1="1053.9" x2="1559.85" y2="1053.9" stroke="#000" stroke-width="3.3"/>
<text transform="translate(1538.15 1063.5) scale(0.965 1)" class="lb" font-size="29.2" text-anchor="end">AIAN</text>
<line x1="1544.25" y1="1111.9" x2="1559.85" y2="1111.9" stroke="#000" stroke-width="3.3"/>
<text transform="translate(1538.15 1121.5) scale(0.965 1)" class="lb" font-size="29.2" text-anchor="end">Asian</text>
<line x1="1544.25" y1="1169.9" x2="1559.85" y2="1169.9" stroke="#000" stroke-width="3.3"/>
<text transform="translate(1538.15 1179.5) scale(0.965 1)" class="lb" font-size="29.2" text-anchor="end">Black</text>
<line x1="1544.25" y1="1227.9" x2="1559.85" y2="1227.9" stroke="#000" stroke-width="3.3"/>
<text transform="translate(1538.15 1237.5) scale(0.965 1)" class="lb" font-size="29.2" text-anchor="end">Hispanic</text>
<line x1="1544.25" y1="1285.9" x2="1559.85" y2="1285.9" stroke="#000" stroke-width="3.3"/>
<text transform="translate(1538.15 1295.5) scale(0.965 1)" class="lb" font-size="29.2" text-anchor="end">Multiple</text>
<line x1="1544.25" y1="1343.9" x2="1559.85" y2="1343.9" stroke="#000" stroke-width="3.3"/>
<text transform="translate(1538.15 1353.5) scale(0.965 1)" class="lb" font-size="29.2" text-anchor="end">White</text>
<line x1="1588.05" y1="1382.2" x2="1588.05" y2="1397.5" stroke="#000" stroke-width="3.3"/>
<text transform="translate(1588.05 1428.8) scale(0.955 1)" class="lb" font-size="29.4" text-anchor="middle">0.6</text>
<line x1="1644.44" y1="1382.2" x2="1644.44" y2="1397.5" stroke="#000" stroke-width="3.3"/>
<text transform="translate(1644.44 1428.8) scale(0.955 1)" class="lb" font-size="29.4" text-anchor="middle">0.8</text>
<line x1="1700.83" y1="1382.2" x2="1700.83" y2="1397.5" stroke="#000" stroke-width="3.3"/>
<path transform="translate(1681.32 1428.8) scale(0.013709 -0.014355)" d="M780 0L499 0L499 1010C420 940 300 880 130 830L130 1080C230 1110 330 1170 420 1250C480 1300 515 1360 540 1425L780 1425Z" fill="#000" stroke="#000" stroke-width="0.5" vector-effect="non-scaling-stroke"/>
<text transform="translate(1696.93 1428.8) scale(0.955 1)" class="lb" font-size="29.4">.0</text>
<line x1="1757.22" y1="1382.2" x2="1757.22" y2="1397.5" stroke="#000" stroke-width="3.3"/>
<path transform="translate(1737.71 1428.8) scale(0.013709 -0.014355)" d="M780 0L499 0L499 1010C420 940 300 880 130 830L130 1080C230 1110 330 1170 420 1250C480 1300 515 1360 540 1425L780 1425Z" fill="#000" stroke="#000" stroke-width="0.5" vector-effect="non-scaling-stroke"/>
<text transform="translate(1753.32 1428.8) scale(0.955 1)" class="lb" font-size="29.4">.2</text>
<line x1="1813.62" y1="1382.2" x2="1813.62" y2="1397.5" stroke="#000" stroke-width="3.3"/>
<path transform="translate(1794.1 1428.8) scale(0.013709 -0.014355)" d="M780 0L499 0L499 1010C420 940 300 880 130 830L130 1080C230 1110 330 1170 420 1250C480 1300 515 1360 540 1425L780 1425Z" fill="#000" stroke="#000" stroke-width="0.5" vector-effect="non-scaling-stroke"/>
<text transform="translate(1809.72 1428.8) scale(0.955 1)" class="lb" font-size="29.4">.4</text>
<line x1="1870.01" y1="1382.2" x2="1870.01" y2="1397.5" stroke="#000" stroke-width="3.3"/>
<path transform="translate(1850.49 1428.8) scale(0.013709 -0.014355)" d="M780 0L499 0L499 1010C420 940 300 880 130 830L130 1080C230 1110 330 1170 420 1250C480 1300 515 1360 540 1425L780 1425Z" fill="#000" stroke="#000" stroke-width="0.5" vector-effect="non-scaling-stroke"/>
<text transform="translate(1866.11 1428.8) scale(0.955 1)" class="lb" font-size="29.4">.6</text>
<line x1="1926.4" y1="1382.2" x2="1926.4" y2="1397.5" stroke="#000" stroke-width="3.3"/>
<path transform="translate(1906.88 1428.8) scale(0.013709 -0.014355)" d="M780 0L499 0L499 1010C420 940 300 880 130 830L130 1080C230 1110 330 1170 420 1250C480 1300 515 1360 540 1425L780 1425Z" fill="#000" stroke="#000" stroke-width="0.5" vector-effect="non-scaling-stroke"/>
<text transform="translate(1922.5 1428.8) scale(0.955 1)" class="lb" font-size="29.4">.8</text>
<line x1="1635.8" y1="1053.9" x2="1703.4" y2="1053.9" stroke="#000" stroke-width="2.3"/>
<line x1="1635.8" y1="1045.9" x2="1635.8" y2="1061.9" stroke="#000" stroke-width="1.9"/>
<line x1="1703.4" y1="1045.9" x2="1703.4" y2="1061.9" stroke="#000" stroke-width="1.9"/>
<circle cx="1666.9" cy="1053.9" r="7.4" fill="#000"/>
<line x1="1759.85" y1="1111.9" x2="1838.8" y2="1111.9" stroke="#000" stroke-width="2.3"/>
<line x1="1759.85" y1="1103.9" x2="1759.85" y2="1119.9" stroke="#000" stroke-width="1.9"/>
<line x1="1838.8" y1="1103.9" x2="1838.8" y2="1119.9" stroke="#000" stroke-width="1.9"/>
<circle cx="1796.2" cy="1111.9" r="7.4" fill="#000"/>
<line x1="1683.9" y1="1169.9" x2="1703.4" y2="1169.9" stroke="#000" stroke-width="2.3"/>
<line x1="1683.9" y1="1161.9" x2="1683.9" y2="1177.9" stroke="#000" stroke-width="1.9"/>
<line x1="1703.4" y1="1161.9" x2="1703.4" y2="1177.9" stroke="#000" stroke-width="1.9"/>
<circle cx="1692.05" cy="1169.9" r="7.4" fill="#000"/>
<line x1="1782.6" y1="1227.9" x2="1824.6" y2="1227.9" stroke="#000" stroke-width="2.3"/>
<line x1="1782.6" y1="1219.9" x2="1782.6" y2="1235.9" stroke="#000" stroke-width="1.9"/>
<line x1="1824.6" y1="1219.9" x2="1824.6" y2="1235.9" stroke="#000" stroke-width="1.9"/>
<circle cx="1801.9" cy="1227.9" r="7.4" fill="#000"/>
<line x1="1647" y1="1285.9" x2="1714.8" y2="1285.9" stroke="#000" stroke-width="2.3"/>
<line x1="1647" y1="1277.9" x2="1647" y2="1293.9" stroke="#000" stroke-width="1.9"/>
<line x1="1714.8" y1="1277.9" x2="1714.8" y2="1293.9" stroke="#000" stroke-width="1.9"/>
<circle cx="1678.2" cy="1285.9" r="7.4" fill="#000"/>
<circle cx="1700.95" cy="1343.9" r="7.4" fill="#000"/></g>
</svg>
</body></html>
